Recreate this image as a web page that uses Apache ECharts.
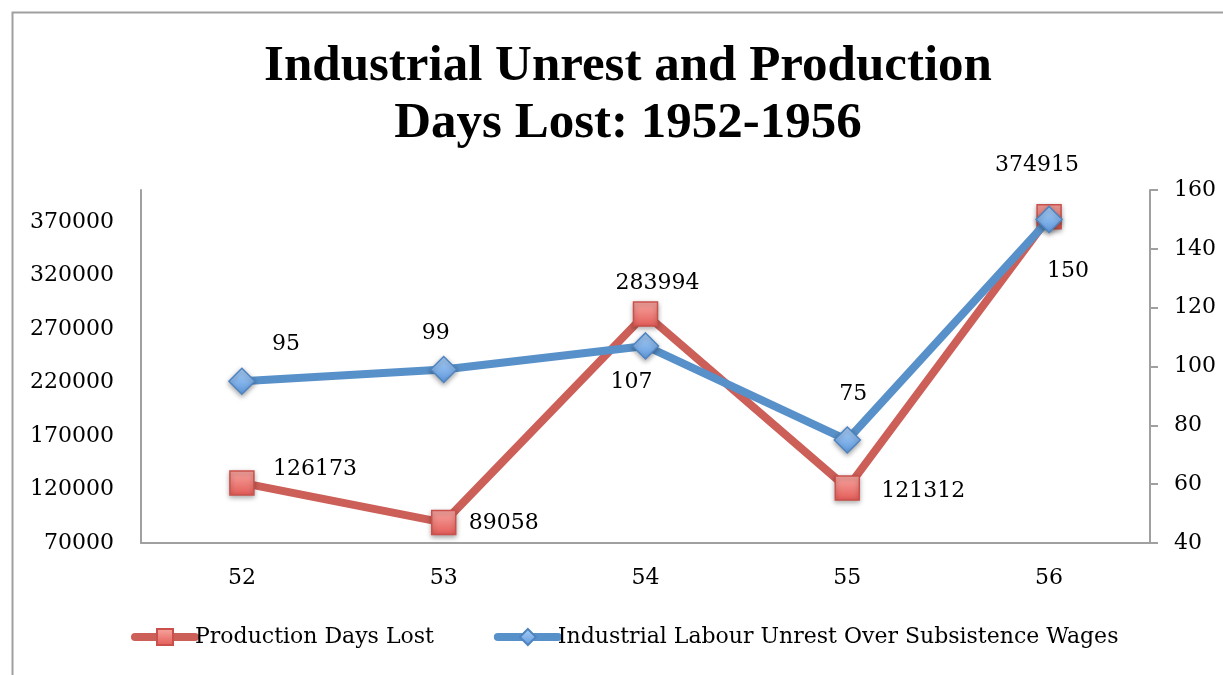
<!DOCTYPE html>
<html><head><meta charset="utf-8">
<script src="https://cdn.jsdelivr.net/npm/echarts@6/dist/echarts.min.js"></script>
<style>html,body{margin:0;padding:0;background:#fff;}#c{width:1223px;height:675px;}</style>
</head><body><div id="c"></div>
<script>
var categories = ['52', '53', '54', '55', '56'];
var productionDaysLost = [126173, 89058, 283994, 121312, 374915];
var labourUnrest = [95, 99, 107, 75, 150];
var leftTicks = {min: 70000, max: 400000, interval: 50000};
var rightTicks = {min: 40, max: 160, interval: 20};
var titleLines = ['Industrial Unrest and Production', 'Days Lost: 1952-1956'];
var seriesNames = ['Production Days Lost', 'Industrial Labour Unrest Over Subsistence Wages'];

// label placement (layout only)
var redLabelOffsets = [[73, -14], [60, 1], [12, -31], [76, 3], [-12, -52]];
var blueLabelOffsets = [[44, -37], [-8, -36], [-14, 36], [6, -46], [19, 52]];

var FONT = 'DejaVu Serif';
var FS = 22;
var axisColor = '#a0a0a0';
var red = '#cc5f58', blue = '#5891c9';

function withLabels(values, offsets) {
  return values.map(function (v, i) {
    return {value: v, label: {offset: offsets[i]}};
  });
}
var redFill = new echarts.graphic.LinearGradient(0, 0, 0, 1, [{offset: 0, color: '#f8a7a2'}, {offset: 1, color: '#e35b57'}]);
var blueFill = new echarts.graphic.LinearGradient(0, 0, 0, 1, [{offset: 0, color: '#acd0f7'}, {offset: 1, color: '#5e99de'}]);

var chart = echarts.init(document.getElementById('c'), null, {renderer: 'canvas'});
chart.setOption({
  backgroundColor: '#fff',
  animation: false,
  graphic: [{
    type: 'rect', left: 10, top: 10, silent: true,
    shape: {x: 0, y: 0, width: 1240, height: 700},
    style: {fill: 'none', stroke: '#a0a0a0', lineWidth: 2}
  }],
  title: {
    text: titleLines.join('\n'),
    left: 623, top: 33, textAlign: 'center',
    textStyle: {fontFamily: 'Liberation Serif', fontWeight: 'bold', fontSize: 51, lineHeight: 57, color: '#000'}
  },
  legend: {
    bottom: 22, left: 126,
    itemWidth: 60, itemHeight: 20, itemGap: 60,
    textStyle: {fontFamily: FONT, fontSize: FS, color: '#000', padding: [0, 0, 0, -5]},
    lineStyle: {width: 8, cap: 'round'},
    data: seriesNames
  },
  grid: {left: 141, right: 73, top: 190, bottom: 132, containLabel: false},
  xAxis: {
    type: 'category', data: categories, boundaryGap: true,
    axisLine: {lineStyle: {color: axisColor, width: 2}},
    axisTick: {show: false},
    axisLabel: {fontFamily: FONT, fontSize: FS, color: '#000', margin: 24}
  },
  yAxis: [{
    type: 'value', position: 'left',
    min: leftTicks.min, max: leftTicks.max, interval: leftTicks.interval,
    axisLine: {show: true, lineStyle: {color: axisColor, width: 2}},
    axisTick: {show: false},
    splitLine: {show: false},
    axisLabel: {fontFamily: FONT, fontSize: FS, color: '#000', margin: 27, showMaxLabel: false,
      formatter: function (v) { return String(v); }}
  }, {
    type: 'value', position: 'right',
    min: rightTicks.min, max: rightTicks.max, interval: rightTicks.interval,
    axisLine: {show: true, lineStyle: {color: axisColor, width: 2}},
    axisTick: {show: true, length: 8, lineStyle: {color: axisColor, width: 2}},
    splitLine: {show: false},
    axisLabel: {fontFamily: FONT, fontSize: FS, color: '#000', margin: 24}
  }],
  series: [{
    name: seriesNames[0], type: 'line', yAxisIndex: 0,
    data: withLabels(productionDaysLost, redLabelOffsets),
    symbol: 'rect', symbolSize: 24,
    lineStyle: {color: red, width: 8},
    itemStyle: {
      color: redFill,
      borderColor: '#c9504b', borderWidth: 1.5,
      shadowColor: 'rgba(0,0,0,0.35)', shadowBlur: 5, shadowOffsetY: 2
    },
    label: {show: true, position: 'inside', fontFamily: FONT, fontSize: FS, color: '#000'},
    z: 2
  }, {
    name: seriesNames[1], type: 'line', yAxisIndex: 1,
    data: withLabels(labourUnrest, blueLabelOffsets),
    symbol: 'diamond', symbolSize: 26,
    lineStyle: {color: blue, width: 8},
    itemStyle: {
      color: blueFill,
      borderColor: '#4f84c0', borderWidth: 1.5,
      shadowColor: 'rgba(0,0,0,0.35)', shadowBlur: 5, shadowOffsetY: 2
    },
    label: {show: true, position: 'inside', fontFamily: FONT, fontSize: FS, color: '#000'},
    z: 3
  }]
});
</script></body></html>
